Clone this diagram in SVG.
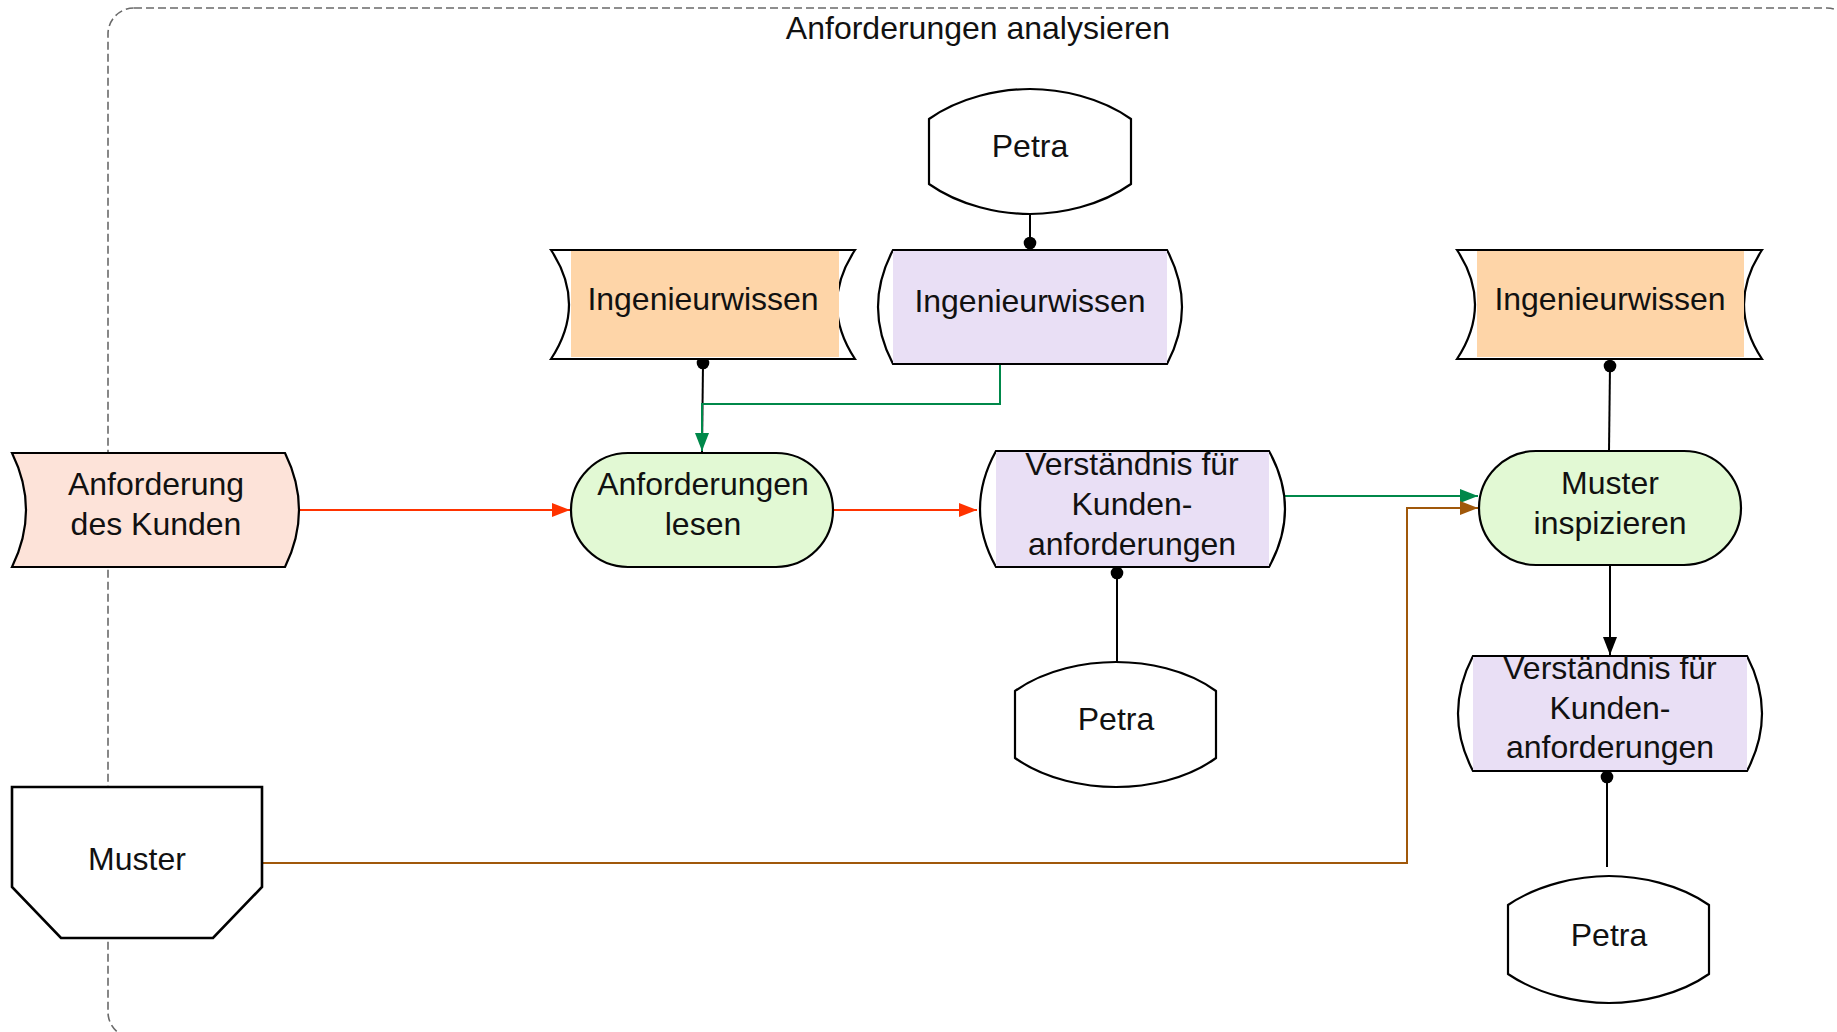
<svg xmlns="http://www.w3.org/2000/svg" width="1837" height="1032" viewBox="0 0 1837 1032">
<style>
text{font-family:"Liberation Sans",Arial,sans-serif;font-size:32px;fill:#111;text-anchor:middle}
.sh{stroke:#000;stroke-width:2.2;fill:#fff}
.ln{fill:none;stroke-width:2}
</style>
<defs>
<marker id="aR" markerUnits="userSpaceOnUse" markerWidth="20" markerHeight="16" refX="18" refY="8" orient="auto"><path d="M0,1 L18,8 L0,15 Z" fill="#ff3300"/></marker>
<marker id="aG" markerUnits="userSpaceOnUse" markerWidth="20" markerHeight="16" refX="18" refY="8" orient="auto"><path d="M0,1 L18,8 L0,15 Z" fill="#00884a"/></marker>
<marker id="aB" markerUnits="userSpaceOnUse" markerWidth="20" markerHeight="16" refX="18" refY="8" orient="auto"><path d="M0,1 L18,8 L0,15 Z" fill="#a0580a"/></marker>
<marker id="aK" markerUnits="userSpaceOnUse" markerWidth="20" markerHeight="16" refX="18" refY="8" orient="auto"><path d="M0,1 L18,8 L0,15 Z" fill="#000"/></marker>
<marker id="dot" markerUnits="userSpaceOnUse" markerWidth="16" markerHeight="16" refX="8" refY="8"><circle cx="8" cy="8" r="6.3" fill="#000"/></marker>
</defs>

<g id="frame">
<rect x="108" y="8" width="1745" height="1030" rx="26" fill="none" stroke="#6a6a6a" stroke-width="1.6" stroke-dasharray="8,4"/>
<text x="978" y="39">Anforderungen analysieren</text>
</g>

<g id="connectors">
<path class="ln" stroke="#000" d="M1030,214 V243" marker-end="url(#dot)"/>
<path class="ln" stroke="#000" d="M702,452 L703,363" marker-end="url(#dot)"/>
<path class="ln" stroke="#00884a" d="M1000,357 V404 H702 V451" marker-end="url(#aG)"/>
<path class="ln" stroke="#ff3300" d="M299,510 H570" marker-end="url(#aR)"/>
<path class="ln" stroke="#ff3300" d="M833,510 H977" marker-end="url(#aR)"/>
<path class="ln" stroke="#00884a" d="M1285,496 H1478" marker-end="url(#aG)"/>
<path class="ln" stroke="#a0580a" d="M262,863 H1407 V508 H1478" marker-end="url(#aB)"/>
<path class="ln" stroke="#000" d="M1609,451 L1610,366" marker-end="url(#dot)"/>
<path class="ln" stroke="#000" d="M1610,565 V655" marker-end="url(#aK)"/>
<path class="ln" stroke="#000" d="M1117,662 V573" marker-end="url(#dot)"/>
<path class="ln" stroke="#000" d="M1607,867 V777" marker-end="url(#dot)"/>
</g>

<g id="petra-top">
<path class="sh" d="M929,119 C960,97 1000,89 1030,89 C1060,89 1100,97 1131,119 V184 C1100,206 1060,214 1030,214 C1000,214 960,206 929,184 Z"/>
<text x="1030" y="157">Petra</text>
</g>

<g id="iw-left">
<path class="sh" d="M551,250 H855 Q819,304.5 855,359 H551 Q587,304.5 551,250 Z"/>
<rect x="571" y="251" width="268" height="106" fill="#fed5a8"/>
<text x="703" y="310">Ingenieurwissen</text>
</g>

<g id="iw-mid">
<path class="sh" d="M893,250 H1167 Q1197,307 1167,364 H893 Q863,307 893,250 Z"/>
<rect x="893" y="251" width="274" height="112" fill="#e9dff5"/>
<text x="1030" y="312">Ingenieurwissen</text>
</g>

<g id="iw-right">
<path class="sh" d="M1457,250 H1762 Q1726,304.5 1762,359 H1457 Q1493,304.5 1457,250 Z"/>
<rect x="1477" y="251" width="267" height="106" fill="#fed5a8"/>
<text x="1610" y="310">Ingenieurwissen</text>
</g>

<g id="anforderung-kunde">
<path class="sh" style="fill:#fde3d9" d="M12,453 H285 Q313,510 285,567 H12 Q40,510 12,453 Z"/>
<text x="156" y="495">Anforderung</text>
<text x="156" y="535">des Kunden</text>
</g>

<g id="anforderungen-lesen">
<rect class="sh" style="fill:#e2f9d4" x="571" y="453" width="262" height="114" rx="57"/>
<text x="703" y="495">Anforderungen</text>
<text x="703" y="535">lesen</text>
</g>

<g id="verstaendnis-mid">
<path class="sh" d="M996,451 H1269 Q1301,509 1269,567 H996 Q964,509 996,451 Z"/>
<rect x="996" y="452" width="273" height="114" fill="#e9dff5"/>
<text x="1132" y="475">Verständnis für</text>
<text x="1132" y="515">Kunden-</text>
<text x="1132" y="555">anforderungen</text>
</g>

<g id="muster-inspizieren">
<rect class="sh" style="fill:#e2f9d4" x="1479" y="451" width="262" height="114" rx="57"/>
<text x="1610" y="494">Muster</text>
<text x="1610" y="534">inspizieren</text>
</g>

<g id="petra-mid">
<path class="sh" d="M1015,691 C1046,669 1086,662 1116,662 C1146,662 1186,669 1216,691 V758 C1186,780 1146,787 1116,787 C1086,787 1046,780 1015,758 Z"/>
<text x="1116" y="730">Petra</text>
</g>

<g id="verstaendnis-right">
<path class="sh" d="M1473,656 H1747 Q1777,713.5 1747,771 H1473 Q1443,713.5 1473,656 Z"/>
<rect x="1473" y="657" width="274" height="113" fill="#e9dff5"/>
<text x="1610" y="679">Verständnis für</text>
<text x="1610" y="719">Kunden-</text>
<text x="1610" y="758">anforderungen</text>
</g>

<g id="petra-bottom">
<path class="sh" d="M1508,905 C1539,884 1579,876 1609,876 C1639,876 1679,884 1709,905 V974 C1679,995 1639,1003 1609,1003 C1579,1003 1539,995 1508,974 Z"/>
<text x="1609" y="946">Petra</text>
</g>

<g id="muster">
<path class="sh" style="stroke-width:2.6" d="M12,787 H262 V887 L213,938 H61 L12,887 Z"/>
<text x="137" y="870">Muster</text>
</g>
</svg>
